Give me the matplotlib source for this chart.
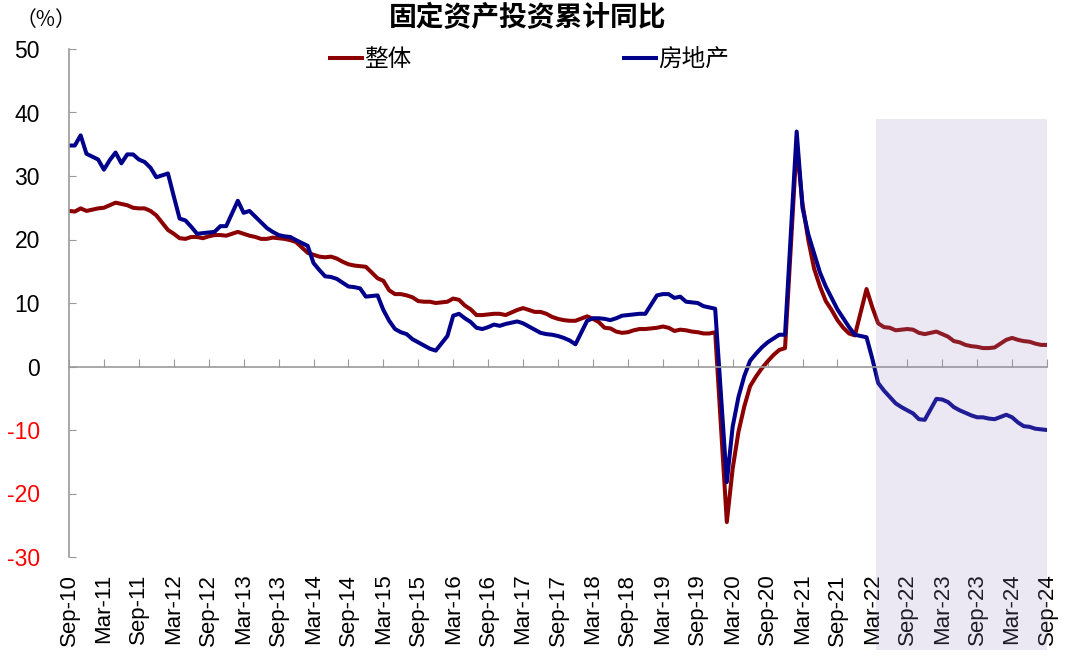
import numpy as np
import pandas as pd
import matplotlib
matplotlib.use('Agg')
import matplotlib.pyplot as plt
from matplotlib.patches import Rectangle

plt.rcParams['font.family'] = ['Liberation Sans', 'Noto Sans CJK SC', 'DejaVu Sans']
plt.rcParams['axes.unicode_minus'] = False

# 月度数据, 2010-09 ~ 2024-09, 1月无数据(None)
months = pd.date_range('2010-09-01', '2024-09-01', freq='MS')

# 整体: 固定资产投资累计同比 (%)
total = [24.5, 24.4, 24.9, 24.5,
         None, 24.9, 25.0, 25.4, 25.8, 25.6, 25.4, 25.0, 24.9, 24.9, 24.5, 23.8,
         None, 21.5, 20.9, 20.2, 20.1, 20.4, 20.4, 20.2, 20.5, 20.7, 20.7, 20.6,
         None, 21.2, 20.9, 20.6, 20.4, 20.1, 20.1, 20.3, 20.2, 20.1, 19.9, 19.6,
         None, 17.9, 17.6, 17.3, 17.2, 17.3, 17.0, 16.5, 16.1, 15.9, 15.8, 15.7,
         None, 13.9, 13.5, 12.0, 11.4, 11.4, 11.2, 10.9, 10.3, 10.2, 10.2, 10.0,
         None, 10.2, 10.7, 10.5, 9.6, 9.0, 8.1, 8.1, 8.2, 8.3, 8.3, 8.1,
         None, 8.9, 9.2, 8.9, 8.6, 8.6, 8.3, 7.8, 7.5, 7.3, 7.2, 7.2,
         None, 7.9, 7.5, 7.0, 6.1, 6.0, 5.5, 5.3, 5.4, 5.7, 5.9, 5.9,
         None, 6.1, 6.3, 6.1, 5.6, 5.8, 5.7, 5.5, 5.4, 5.2, 5.2, 5.4,
         None, -24.5, -16.1, -10.3, -6.3, -3.1, -1.6, -0.3, 0.8, 1.8, 2.6, 2.9,
         None, 35.0, 25.6, 19.9, 15.4, 12.6, 10.3, 8.9, 7.3, 6.1, 5.2, 4.9,
         None, 12.2, 9.3, 6.8, 6.2, 6.1, 5.7, 5.8, 5.9, 5.8, 5.3, 5.1,
         None, 5.5, 5.1, 4.7, 4.0, 3.8, 3.4, 3.2, 3.1, 2.9, 2.9, 3.0,
         None, 4.2, 4.5, 4.2, 4.0, 3.9, 3.6, 3.4, 3.4]

# 房地产
realty = [34.8, 34.8, 36.4, 33.5,
          None, 32.6, 31.0, 32.5, 33.7, 32.0, 33.4, 33.4, 32.6, 32.2, 31.3, 29.8,
          None, 30.4, 26.8, 23.3, 23.0, 22.0, 20.9, 21.0, 21.1, 21.2, 22.1, 22.1,
          None, 26.1, 24.2, 24.5, 23.6, 22.7, 21.8, 21.2, 20.7, 20.5, 20.4, 19.9,
          None, 19.0, 16.3, 15.2, 14.2, 14.1, 13.8, 13.2, 12.6, 12.5, 12.3, 11.0,
          None, 11.2, 8.9, 7.2, 5.9, 5.4, 5.1, 4.3, 3.8, 3.3, 2.8, 2.5,
          None, 4.8, 8.0, 8.3, 7.6, 7.0, 6.1, 5.9, 6.2, 6.6, 6.4, 6.7,
          None, 7.1, 6.8, 6.3, 5.8, 5.3, 5.1, 5.0, 4.8, 4.5, 4.1, 3.5,
          None, 7.2, 7.6, 7.6, 7.5, 7.3, 7.6, 8.0, 8.1, 8.2, 8.3, 8.3,
          None, 11.2, 11.4, 11.4, 10.8, 11.0, 10.2, 10.1, 10.0, 9.5, 9.3, 9.1,
          None, -18.2, -9.5, -4.8, -1.5, 0.9, 2.0, 3.0, 3.8, 4.4, 5.0, 5.0,
          None, 37.0, 25.0, 20.8, 17.8, 14.8, 12.6, 10.8, 9.0, 7.6, 6.2, 5.0,
          None, 4.6, 1.2, -2.6, -3.8, -4.8, -5.8, -6.4, -6.9, -7.4, -8.3, -8.4,
          None, -5.1, -5.2, -5.6, -6.4, -6.9, -7.3, -7.7, -8.0, -8.0, -8.2, -8.3,
          None, -7.6, -8.0, -8.8, -9.4, -9.5, -9.8, -9.9, -10.0]

series_names = ['整体', '房地产']
series_colors = ['#8B0000', '#00008B']
yticks = list(range(-30, 51, 10))
shade_start = 138.6   # 2022年3月后阴影
shade_top = 38.9

x = np.arange(len(months))
fig = plt.figure(figsize=(10.8, 6.58), dpi=100)
ax = fig.add_axes([69/1080, 101/658, 978/1080, 508/658])

for vals, name, c in zip([total, realty], series_names, series_colors):
    s = pd.Series(vals, dtype=float)
    ok = s.notna().values
    ax.plot(x[ok], s.values[ok], color=c, lw=2.9, label=name, solid_joinstyle='round')

# 阴影区域 (覆盖在线上, 一直延伸到横轴标签)
ax.add_patch(Rectangle((shade_start, -44.6), x[-1] - shade_start, shade_top + 44.6,
                       facecolor='#9C8FC4', alpha=0.2, edgecolor='none',
                       zorder=5, clip_on=False))

ax.set_xlim(0, x[-1])
ax.set_ylim(-30, 50)
ax.set_yticks(yticks)
ax.tick_params(axis='y', direction='in', length=5, color='#999999', labelsize=16.5, pad=21)
for lab, v in zip(ax.get_yticklabels(), yticks):
    lab.set_color('red' if v < 0 else 'black')

for sp in ['top', 'right']:
    ax.spines[sp].set_visible(False)
ax.spines['left'].set_color('#999999')
ax.spines['left'].set_linewidth(1.2)
ax.spines['bottom'].set_position(('data', 0))
ax.spines['bottom'].set_color('#999999')
ax.spines['bottom'].set_linewidth(1.2)

xt = x[::6]
ax.set_xticks(xt)
ax.tick_params(axis='x', direction='in', length=6, color='#999999', labelbottom=False)

sec = ax.secondary_xaxis('bottom')
sec.set_xticks(xt)
sec.set_xticklabels(months[::6].strftime('%b-%y'), rotation=90, fontsize=16)
sec.tick_params(length=0, pad=12)
sec.spines['bottom'].set_visible(False)

fig.text(0.489, 0.972, '固定资产投资累计同比', ha='center', va='center',
         fontsize=20, fontweight='bold')
fig.text(0.014, 0.970, '（%）', ha='left', va='center', fontsize=15,
         family=['Noto Sans CJK SC', 'DejaVu Sans'])

ax.legend(loc='center left', bbox_to_anchor=(330/1080, 1 - 60/658),
          bbox_transform=fig.transFigure, ncol=2, frameon=False, fontsize=17,
          handlelength=1.35, handletextpad=0.1, columnspacing=9.0,
          borderpad=0, borderaxespad=0)

fig.savefig('out.png', dpi=100)
